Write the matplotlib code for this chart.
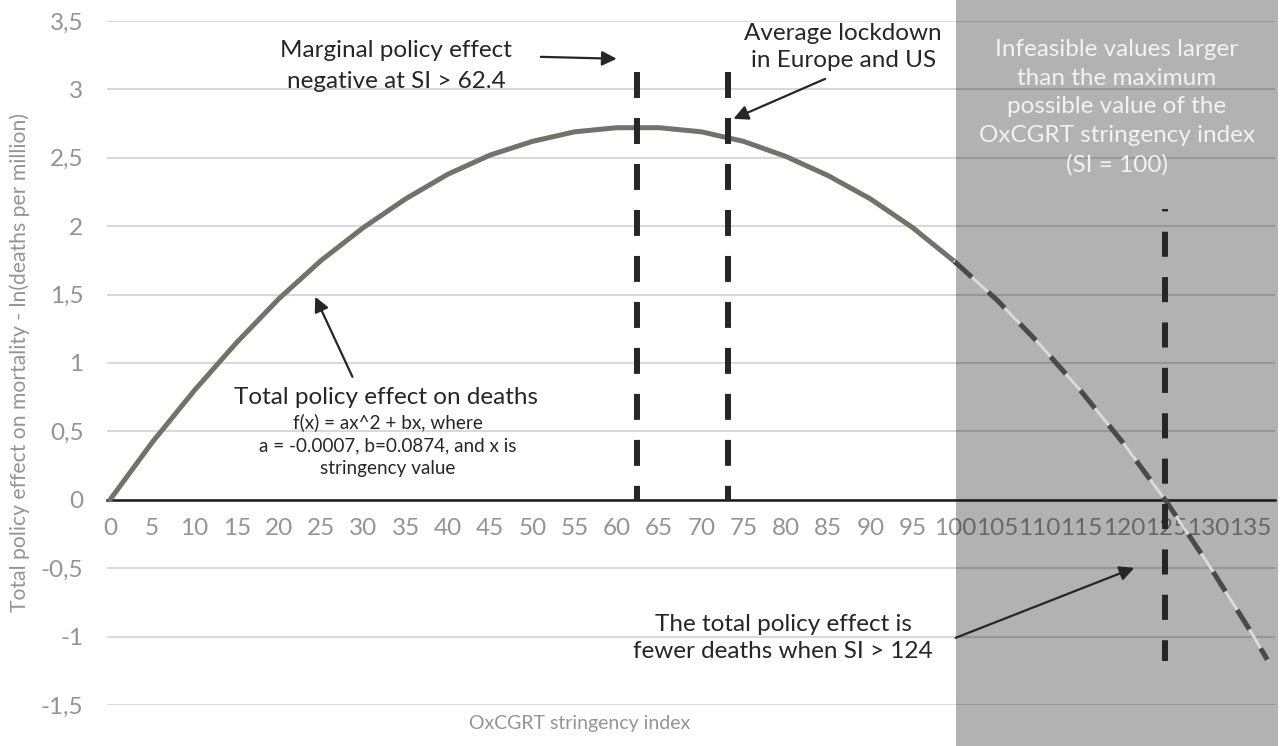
import matplotlib
matplotlib.use("Agg")
import matplotlib.pyplot as plt
from matplotlib.patches import Rectangle
import matplotlib.transforms as mtransforms
import numpy as np

plt.rcParams['font.family'] = ['Lato', 'DejaVu Sans']

# ---- data ----
stringency = [0, 5, 10, 15, 20, 25, 30, 35, 40, 45, 50, 55, 60, 65, 70,
              75, 80, 85, 90, 95, 100, 105, 110, 115, 120, 125, 130, 135, 137]
effect = [0.00, 0.42, 0.80, 1.15, 1.47, 1.75, 1.99, 2.20, 2.38, 2.52, 2.62,
          2.69, 2.72, 2.72, 2.69, 2.62, 2.51, 2.37, 2.20, 1.99, 1.74, 1.46,
          1.14, 0.79, 0.41, -0.01, -0.47, -0.96, -1.17]
feasible_max = 100
si_peak = 62.4
si_lockdown = 73.1
si_zero = 124.9
x_tick_values = list(range(0, 140, 5))
x_tick_labels = [str(v) for v in x_tick_values]
y_tick_values = [3.5, 3, 2.5, 2, 1.5, 1, 0.5, 0, -0.5, -1, -1.5]
y_tick_labels = ["3,5", "3", "2,5", "2", "1,5", "1", "0,5", "0", "-0,5", "-1", "-1,5"]

W, H = 1284, 746
fig = plt.figure(figsize=(W / 100, H / 100), dpi=100)
ax_left, ax_right, ax_top, ax_bottom = 107, 1275, 21, 705
ax = fig.add_axes([ax_left / W, 1 - ax_bottom / H, (ax_right - ax_left) / W,
                   (ax_bottom - ax_top) / H])
ax.set_xlim(-0.35, 137.9)
ax.set_ylim(-1.5, 3.5)

# grid
ax.set_axisbelow(True)
ax.set_yticks(y_tick_values)
ax.set_yticklabels(y_tick_labels)
ax.set_xticks(x_tick_values)
ax.set_xticklabels(x_tick_labels)
ax.yaxis.grid(True, color='#d9d9d9', lw=1.5)
ax.xaxis.grid(False)
for s in ['top', 'right', 'left']:
    ax.spines[s].set_visible(False)
ax.spines['bottom'].set_position(('data', 0))
ax.spines['bottom'].set_color('#1a1a1a')
ax.spines['bottom'].set_linewidth(1.8)
ax.tick_params(axis='both', length=0, labelsize=17.5, labelcolor='#949494')
ax.tick_params(axis='x', pad=13)
ax.tick_params(axis='y', pad=17)

# shaded infeasible region
trans = mtransforms.blended_transform_factory(ax.transData, ax.transAxes)
rect = Rectangle((100.1, -0.06), 38.2, 1.09, transform=trans, facecolor='black',
                 alpha=0.3, edgecolor='none', clip_on=False, zorder=1.5)
ax.add_patch(rect)

x = np.array(stringency, dtype=float)
y = np.array(effect, dtype=float)
m1 = x <= feasible_max
m2 = x >= feasible_max
ax.plot(x[m1], y[m1], color='#72726a', lw=3.6, solid_capstyle='round', zorder=3)
ax.plot(x[m2], y[m2], color='#dcdcdc', lw=2.0, zorder=3)
ax.plot(x[m2], y[m2], color='#4a4a4a', lw=3.6, dashes=(4.6, 4.4), zorder=3.1)

# vertical dashed reference lines
vcol = '#262626'
ax.plot([si_peak, si_peak], [3.13, 0], color=vcol, lw=4.3, dashes=(4.35, 3.35),
        zorder=4)
ax.plot([si_lockdown, si_lockdown], [3.13, 0], color=vcol, lw=4.3, dashes=(4.35, 3.35),
        zorder=4)
ax.plot([si_zero, si_zero], [2.125, -1.175], color=vcol, lw=4.3,
        linestyle=(3.8, (4.2, 3.4)), zorder=4)

# annotations
acol = '#262626'
aprops = dict(arrowstyle='-|>', color=acol, lw=1.6, mutation_scale=22,
              shrinkA=0, shrinkB=0)
ax.annotate('', xy=(59.98, 3.224), xytext=(51.0, 3.238), arrowprops=aprops, zorder=5)
ax.annotate('', xy=(73.8, 2.785), xytext=(84.65, 3.077), arrowprops=aprops, zorder=5)
ax.annotate('', xy=(24.3, 1.484), xytext=(28.7, 0.899), arrowprops=aprops, zorder=5)
ax.annotate('', xy=(121.25, -0.497), xytext=(100.1, -1.009), arrowprops=aprops, zorder=5)

tcol = '#262626'
ax.text(33.9, 3.17, 'Marginal policy effect\nnegative at SI > 62.4', ha='center',
        va='center', fontsize=17.5, color=tcol, linespacing=1.6, zorder=5)
ax.text(86.8, 3.31, 'Average lockdown\nin Europe and US', ha='center', va='center',
        fontsize=17.5, color=tcol, linespacing=1.4, zorder=5)
ax.text(32.7, 0.746, 'Total policy effect on deaths', ha='center', va='center',
        fontsize=17.5, color=tcol, zorder=5)
ax.text(32.9, 0.40, 'f(x) = ax^2 + bx, where\na = -0.0007, b=0.0874, and x is\nstringency value',
        ha='center', va='center', fontsize=13.6, color=tcol, linespacing=1.4, zorder=5)
ax.text(79.7, -1.009, 'The total policy effect is\nfewer deaths when SI > 124', ha='center',
        va='center', fontsize=17.5, color=tcol, linespacing=1.35, zorder=5)
ax.text(119.2, 2.87, 'Infeasible values larger\nthan the maximum\npossible value of the\nOxCGRT stringency index\n(SI = 100)',
        ha='center', va='center', fontsize=17.5, color='#f2f2f2', linespacing=1.45, zorder=5)

# axis titles
fig.text(20 / W, 1 - 363 / H, 'Total policy effect on mortality - ln(deaths per million)',
         rotation=90, ha='center', va='center', fontsize=15.2, color='#949494')
fig.text(580 / W, 1 - 723 / H, 'OxCGRT stringency index', ha='center', va='center',
         fontsize=14, color='#949494')

fig.savefig('out.png', dpi=100, facecolor='white')
